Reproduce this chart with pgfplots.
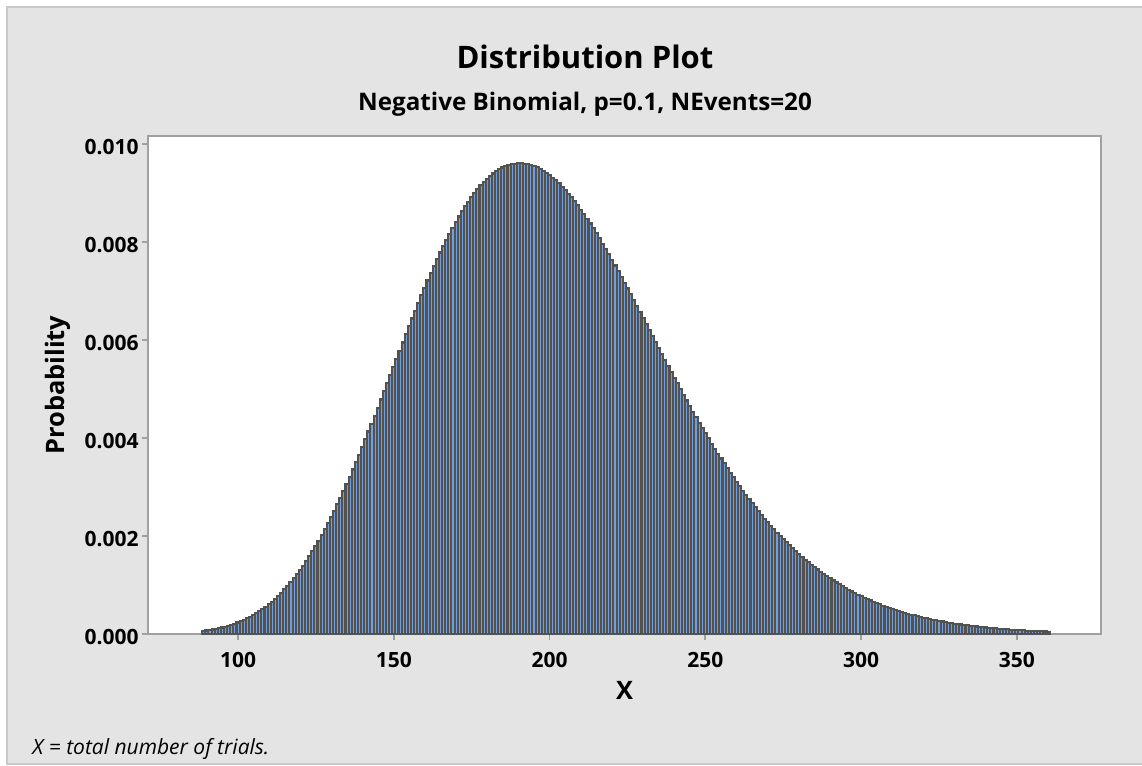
\documentclass[border=0pt]{standalone}
\usepackage{fontspec}
\setmainfont{Open Sans}
\usepackage{pgfplots}
\pgfplotsset{compat=1.18}
\definecolor{bggray}{RGB}{228,228,228}
\definecolor{bordergray}{RGB}{200,200,200}
\definecolor{framegray}{RGB}{160,160,160}
\definecolor{barblue}{RGB}{114,160,222}
\definecolor{bardark}{RGB}{82,82,82}
\begin{document}
\begin{tikzpicture}
\path[use as bounding box] (0pt,0pt) rectangle (571pt,-383pt);
\fill[white] (0pt,0pt) rectangle (571pt,-383pt);
\draw[bordergray, fill=bggray, line width=0.6pt] (3.5pt,-3.5pt) rectangle (590pt,-382pt);
\begin{axis}[
  at={(74pt,-68pt)}, anchor=north west,
  scale only axis, width=476.5pt, height=249pt,
  xmin=71.1, xmax=377, ymin=0, ymax=10163,
  scaled y ticks=false,
  axis background/.style={fill=white},
  axis line style={framegray, line width=0.9pt},
  tick style={framegray, line width=0.9pt},
  tick align=outside, major tick length=3pt,
  tick pos=left,
  xtick={100,150,...,350}, xticklabels={100,150,200,250,300,350},
  ytick={0,2000,...,10000}, yticklabels={0.000,0.002,0.004,0.006,0.008,0.010},
  ticklabel style={font=\bfseries\fontsize{10.5}{12}\selectfont, text=black, inner sep=0pt},
  xticklabel style={anchor=base, yshift=-13.5pt},
  yticklabel style={anchor=east, xshift=-1.5pt, yshift=-1.5pt},
  xlabel={X}, ylabel={Probability},
  every axis x label/.style={at={(axis description cs:0.5,-0.1325)}, anchor=base, font=\bfseries\fontsize{12.7}{15}\selectfont},
  every axis y label/.style={at={(axis description cs:-0.0871,0.5)}, rotate=90, anchor=base, font=\bfseries\fontsize{12.7}{15}\selectfont},
]
% probabilities in units of 1e-6
\addplot[ybar, bar width=1, fill=barblue, draw=bardark, line width=1.05pt] coordinates {
(89,62.0) (90,71.0) (91,81.0) (92,92.1) (93,104.5) (94,118.2) (95,133.3) (96,150.0)
(97,168.3) (98,188.4) (99,210.3) (100,234.2) (101,260.3) (102,288.5) (103,319.1) (104,352.1)
(105,387.7) (106,426.0) (107,467.1) (108,511.2) (109,558.3) (110,608.6) (111,662.1) (112,719.0)
(113,779.3) (114,843.1) (115,910.5) (116,981.6) (117,1056.5) (118,1135.2) (119,1217.8) (120,1304.3)
(121,1394.7) (122,1489.0) (123,1587.3) (124,1689.6) (125,1795.8) (126,1905.9) (127,2019.9) (128,2137.7)
(129,2259.3) (130,2384.6) (131,2513.5) (132,2645.9) (133,2781.7) (134,2920.8) (135,3063.0) (136,3208.2)
(137,3356.3) (138,3507.1) (139,3660.4) (140,3816.0) (141,3973.7) (142,4133.3) (143,4294.6) (144,4457.4)
(145,4621.4) (146,4786.5) (147,4952.3) (148,5118.7) (149,5285.4) (150,5452.1) (151,5618.6) (152,5784.6)
(153,5949.9) (154,6114.2) (155,6277.2) (156,6438.7) (157,6598.5) (158,6756.3) (159,6911.8) (160,7064.8)
(161,7215.1) (162,7362.5) (163,7506.7) (164,7647.5) (165,7784.6) (166,7917.9) (167,8047.2) (168,8172.3)
(169,8293.0) (170,8409.1) (171,8520.5) (172,8627.0) (173,8728.5) (174,8824.9) (175,8916.0) (176,9001.7)
(177,9082.0) (178,9156.7) (179,9225.8) (180,9289.2) (181,9346.9) (182,9398.8) (183,9444.9) (184,9485.2)
(185,9519.7) (186,9548.4) (187,9571.3) (188,9588.4) (189,9599.8) (190,9605.4) (191,9605.4) (192,9599.8)
(193,9588.7) (194,9572.2) (195,9550.3) (196,9523.2) (197,9490.9) (198,9453.6) (199,9411.3) (200,9364.3)
(201,9312.5) (202,9256.2) (203,9195.5) (204,9130.6) (205,9061.5) (206,8988.4) (207,8911.5) (208,8830.9)
(209,8746.8) (210,8659.3) (211,8568.7) (212,8474.9) (213,8378.3) (214,8279.0) (215,8177.1) (216,8072.8)
(217,7966.3) (218,7857.6) (219,7747.1) (220,7634.7) (221,7520.7) (222,7405.3) (223,7288.6) (224,7170.7)
(225,7051.8) (226,6932.0) (227,6811.4) (228,6690.2) (229,6568.6) (230,6446.6) (231,6324.4) (232,6202.1)
(233,6079.8) (234,5957.6) (235,5835.7) (236,5714.1) (237,5593.0) (238,5472.4) (239,5352.5) (240,5233.3)
(241,5114.9) (242,4997.4) (243,4880.9) (244,4765.4) (245,4651.0) (246,4537.8) (247,4425.9) (248,4315.3)
(249,4206.0) (250,4098.1) (251,3991.7) (252,3886.7) (253,3783.3) (254,3681.4) (255,3581.1) (256,3482.5)
(257,3385.5) (258,3290.2) (259,3196.6) (260,3104.7) (261,3014.5) (262,2926.1) (263,2839.4) (264,2754.5)
(265,2671.3) (266,2589.9) (267,2510.2) (268,2432.3) (269,2356.1) (270,2281.6) (271,2208.9) (272,2137.9)
(273,2068.6) (274,2001.0) (275,1935.1) (276,1870.8) (277,1808.2) (278,1747.2) (279,1687.8) (280,1630.0)
(281,1573.8) (282,1519.1) (283,1466.0) (284,1414.4) (285,1364.2) (286,1315.5) (287,1268.2) (288,1222.3)
(289,1177.8) (290,1134.6) (291,1092.7) (292,1052.1) (293,1012.8) (294,974.7) (295,937.8) (296,902.1)
(297,867.6) (298,834.2) (299,801.9) (300,770.7) (301,740.5) (302,711.4) (303,683.2) (304,656.0)
(305,629.8) (306,604.5) (307,580.1) (308,556.5) (309,533.8) (310,511.9) (311,490.8) (312,470.5)
(313,450.9) (314,432.0) (315,413.8) (316,396.3) (317,379.5) (318,363.3) (319,347.7) (320,332.7)
(321,318.3) (322,304.5) (323,291.2) (324,278.5) (325,266.3) (326,254.6) (327,243.3) (328,232.5)
(329,222.1) (330,212.1) (331,202.6) (332,193.4) (333,184.6) (334,176.2) (335,168.1) (336,160.4)
(337,153.0) (338,145.9) (339,139.1) (340,132.6) (341,126.4) (342,120.5) (343,114.8) (344,109.4)
(345,104.2) (346,99.3) (347,94.5) (348,90.0) (349,85.7) (350,81.5) (351,77.6) (352,73.8)
(353,70.3) (354,66.8) (355,63.6) (356,60.4) (357,57.5) (358,54.6) (359,51.9) (360,49.3)
};
\end{axis}
\node[anchor=base, font=\bfseries\fontsize{15.5}{18}\selectfont] at (292.5pt,-34.2pt) {Distribution Plot};
\node[anchor=base, font=\bfseries\fontsize{12.1}{14}\selectfont] at (292.5pt,-55pt) {Negative Binomial, p=0.1, NEvents=20};
\node[anchor=base west, inner sep=0pt, font=\itshape\fontsize{10.5}{12}\selectfont] at (16pt,-377pt) {X = total number of trials.};
\end{tikzpicture}
\end{document}
